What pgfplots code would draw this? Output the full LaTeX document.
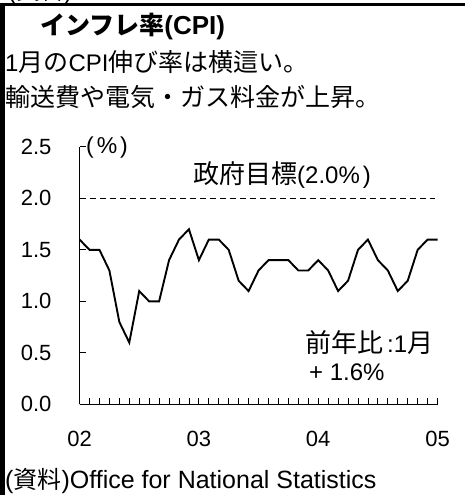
\documentclass[border=0pt]{standalone}
\usepackage{fontspec}
\setmainfont{Liberation Sans}
\newfontfamily\cjk{Noto Sans CJK JP}
\usepackage{pgfplots}
\pgfplotsset{compat=1.18}
\begin{document}
\begin{tikzpicture}[x=1pt,y=1pt]
\useasboundingbox (0,0) rectangle (465,495);
\fill[white] (0,0) rectangle (465,495);
% frame
\draw[line width=3pt] (0,490) -- (465,490);
\draw[line width=4.5pt] (2.25,0) -- (2.25,491.5);
\node[anchor=south west, inner sep=0pt, font=\fontsize{24}{28}\selectfont] at (8,490.5) {({\cjk 資料})};
% titles
\node[anchor=west, inner sep=0pt] at (40,468) {\bfseries{\fontsize{25}{28}\selectfont\cjk インフレ率}{\fontsize{26}{28}\selectfont(CPI)}};
\node[anchor=west, inner sep=0pt] at (5,432.5) {\fontsize{24}{28}\selectfont 1{\fontsize{25}{28}\selectfont\cjk 月の}CPI{\fontsize{25}{28}\selectfont\cjk 伸び率は横這い。}};
\node[anchor=west, inner sep=0pt] at (5,397.5) {\fontsize{25}{28}\selectfont\cjk 輸送費や電気・ガス料金が上昇。};
% source
\node[anchor=west, inner sep=0pt] at (5,14) {\fontsize{25}{28}\selectfont ({\fontsize{24}{28}\selectfont\cjk 資料})Office for National Statistics};
\begin{axis}[
  at={(80,88)}, anchor=south west,
  scale only axis, width=358pt, height=257.5pt,
  xmin=0, xmax=36, ymin=0, ymax=2.5,
  clip=false,
  axis x line*=bottom, axis y line*=left,
  axis line style={-, line width=1pt, black},
  tick align=inside,
  major tick length=6pt, minor tick length=6pt,
  tick style={black, line width=0.8pt},
  xtick={0,12,24,36},
  xticklabels={\mbox{02},\mbox{03},\mbox{04},\mbox{05}},
  minor xtick={1,2,...,35},
  ytick={0,0.5,1,1.5,2,2.5},
  yticklabels={\mbox{0.0},\mbox{0.5},\mbox{1.0},\mbox{1.5},\mbox{2.0},\mbox{2.5}},
  ticklabel style={font=\fontsize{22}{26}\selectfont},
  xticklabel style={anchor=north, inner sep=0pt, yshift=-27pt},
  yticklabel style={anchor=east, inner sep=0pt, xshift=-28pt},
  /pgf/number format/assume math mode=true,
]
\addplot[black, line width=0.9pt, dash pattern=on 6pt off 4pt] coordinates {(0,2) (35.7,2)};
\addplot[black, line width=1.9pt, line join=miter] coordinates {
(0,1.6) (1,1.5) (2,1.5) (3,1.3) (4,0.8) (5,0.6) (6,1.1) (7,1.0) (8,1.0) (9,1.4)
(10,1.6) (11,1.7) (12,1.4) (13,1.6) (14,1.6) (15,1.5) (16,1.2) (17,1.1) (18,1.3) (19,1.4)
(20,1.4) (21,1.4) (22,1.3) (23,1.3) (24,1.4) (25,1.3) (26,1.1) (27,1.2) (28,1.5) (29,1.6)
(30,1.4) (31,1.3) (32,1.1) (33,1.2) (34,1.5) (35,1.6) (36,1.6)};
\end{axis}
% annotations
\node[anchor=center, inner sep=0pt, font=\fontsize{23}{26}\selectfont] at (107,347) {(\hspace{3pt}\%\hspace{3pt})};
\node[anchor=west, inner sep=0pt] at (193,320) {{\fontsize{26}{28}\selectfont\cjk 政府目標}{\fontsize{24}{28}\selectfont (2.0\%\hspace{3pt})}};
\node[anchor=west, inner sep=0pt] at (305,152) {{\fontsize{26}{28}\selectfont\cjk 前年比}{\fontsize{24}{28}\selectfont\,:1}{\fontsize{26}{28}\selectfont\cjk 月}};
\node[anchor=west, inner sep=0pt, font=\fontsize{24}{28}\selectfont] at (309,123) {+ 1.6\%};
\end{tikzpicture}
\end{document}
